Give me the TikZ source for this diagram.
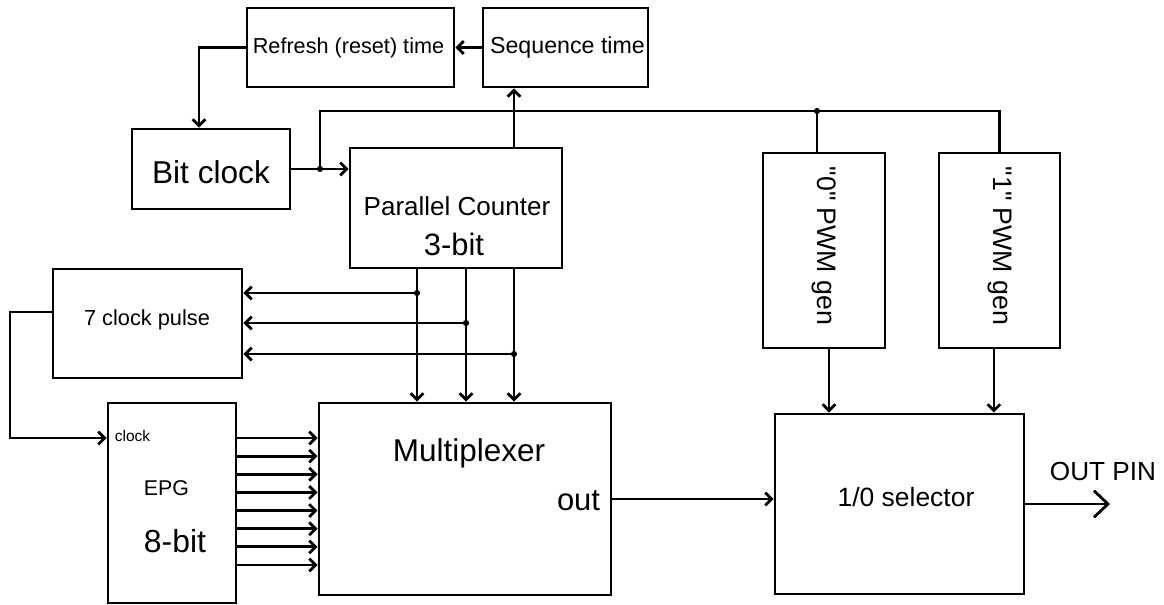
\documentclass[tikz,border=0pt]{standalone}
\usepackage{fontspec}
\setmainfont{Liberation Sans}
\newfontfamily\plainsans{Liberation Sans}
\usetikzlibrary{arrows.meta,calc}
\newcommand{\fsz}[1]{\fontsize{#1}{#1}\selectfont}

\tikzset{
  blk/.style={draw,line width=2pt,rectangle,inner sep=0pt},
  wire/.style={line width=2pt},
  arr/.style={wire,-{Straight Barb[length=4.5pt,width=9pt]}},
  bigarr/.style={wire,-{Straight Barb[length=10pt,width=19pt]}},
  txt/.style={inner sep=0pt,anchor=base}
}

\begin{document}
\begin{tikzpicture}[x=0.025cm,y=-0.025cm]
\useasboundingbox (0,0) rectangle (1164,605);
% blocks
\node[blk,minimum width=5.175cm,minimum height=1.975cm] (refresh) at (350.5,47.5) {};
\node[blk,minimum width=4.125cm,minimum height=1.975cm] (seqtime) at (565.5,47.5) {};
\node[blk,minimum width=3.95cm,minimum height=2cm] (bitclk) at (211,169) {};
\node[blk,minimum width=5.3cm,minimum height=3cm] (counter) at (456,208) {};
\node[blk,minimum width=3.05cm,minimum height=4.875cm] (pwmzero) at (824,250.5) {};
\node[blk,minimum width=3.025cm,minimum height=4.875cm] (pwmone) at (999.5,250.5) {};
\node[blk,minimum width=4.725cm,minimum height=2.725cm] (pulse) at (147.5,323.5) {};
\node[blk,minimum width=3.2cm,minimum height=5cm] (epg) at (172,503) {};
\node[blk,minimum width=7.3cm,minimum height=4.8cm] (mux) at (465,499) {};
\node[blk,minimum width=6.225cm,minimum height=4.5cm] (selector) at (899.5,504) {};

% texts
\node[txt,font={\fsz{15.4}}] (trefresh) at (348.5,53) {Refresh (reset) time};
\node[txt,font={\fsz{16.5}}] (tseqtime) at (567.5,53) {Sequence time};
\node[txt,font={\fsz{22.5}}] (tbitclk) at (211,183) {Bit clock};
\node[txt,font={\fsz{18.5}}] (tcounter) at (457,215) {Parallel Counter};
\node[txt,font={\fsz{22}}] (tcbits) at (454,255) {3-bit};
\node[txt,font={\fsz{15.5}}] (tpulse) at (147,325.5) {7 clock pulse};
\node[txt,font={\fsz{11}}] (tclock) at (132.5,441.5) {clock};
\node[txt,font={\fsz{15.2}}] (tepg) at (166.5,495) {EPG};
\node[txt,font={\fsz{22.7}}] (tebits) at (175,552.5) {8-bit};
\node[txt,font={\fsz{22.4}}] (tmux) at (469,461.5) {Multiplexer};
\node[txt,font={\fsz{22}}] (tout) at (578.5,510) {out};
\node[txt,font={\fsz{18.8}}] (tselector) at (906,506) {1/0 selector};
\node[txt,font={\fsz{18.6}}] (toutpin) at (1103,480.5) {OUT PIN};
\node[inner sep=0pt,rotate=-90,font={\plainsans\fsz{19}}] (tpwmzero) at (824,246) {"0" PWM gen};
\node[inner sep=0pt,rotate=-90,font={\plainsans\fsz{19}}] (tpwmone) at (999.5,246) {"1" PWM gen};

% junctions
\coordinate (tap) at (320,169);
\coordinate (busl) at (320,111);
\coordinate (busz) at (817,111);
\coordinate (d0) at (417,293);
\coordinate (d1) at (466,323);
\coordinate (d2) at (514,354);
\coordinate (fbout) at (53,312);
\coordinate (fbturn) at (10,438);
\coordinate (outpin) at (1110,505);

% connectors
\draw[arr] (seqtime.west) -- (refresh.east);
\draw[arr] (refresh.west) -| ([xshift=-0.3cm]bitclk.north);
\draw[arr] (bitclk.east) -- (counter.west |- bitclk.east);
\draw[wire] (tap) -- (busl) -- (busl -| pwmone.north) -- (pwmone.north);
\draw[wire] (busz) -- (busz |- pwmzero.north);
\draw[arr] (counter.north -| d2) -- (seqtime.south -| d2);
\foreach \d in {d0,d1,d2} {
  \draw[arr] (counter.south -| \d) -- (mux.north -| \d);
  \draw[arr] (\d) -- (pulse.east |- \d);
  \fill (\d) circle[radius=2.2pt];
}
\fill (tap) circle[radius=2.2pt];
\fill (busz) circle[radius=2.2pt];
\draw[arr] (fbout) -| (fbturn) -- (epg.west |- fbturn);
\foreach \k in {0,...,7} {
  \pgfmathsetmacro\yy{438+18.14*\k}
  \draw[arr] (epg.east |- 0,\yy) -- (mux.west |- 0,\yy);
}
\draw[arr] (mux.east) -- (mux.east -| selector.west);
\draw[arr] ([xshift=0.125cm]pwmzero.south) -- ([xshift=0.125cm]pwmzero.south |- selector.north);
\draw[arr] ([xshift=-0.14cm]pwmone.south) -- ([xshift=-0.14cm]pwmone.south |- selector.north);
\draw[bigarr] (selector.east) -- (selector.east -| outpin);
\end{tikzpicture}
\end{document}
